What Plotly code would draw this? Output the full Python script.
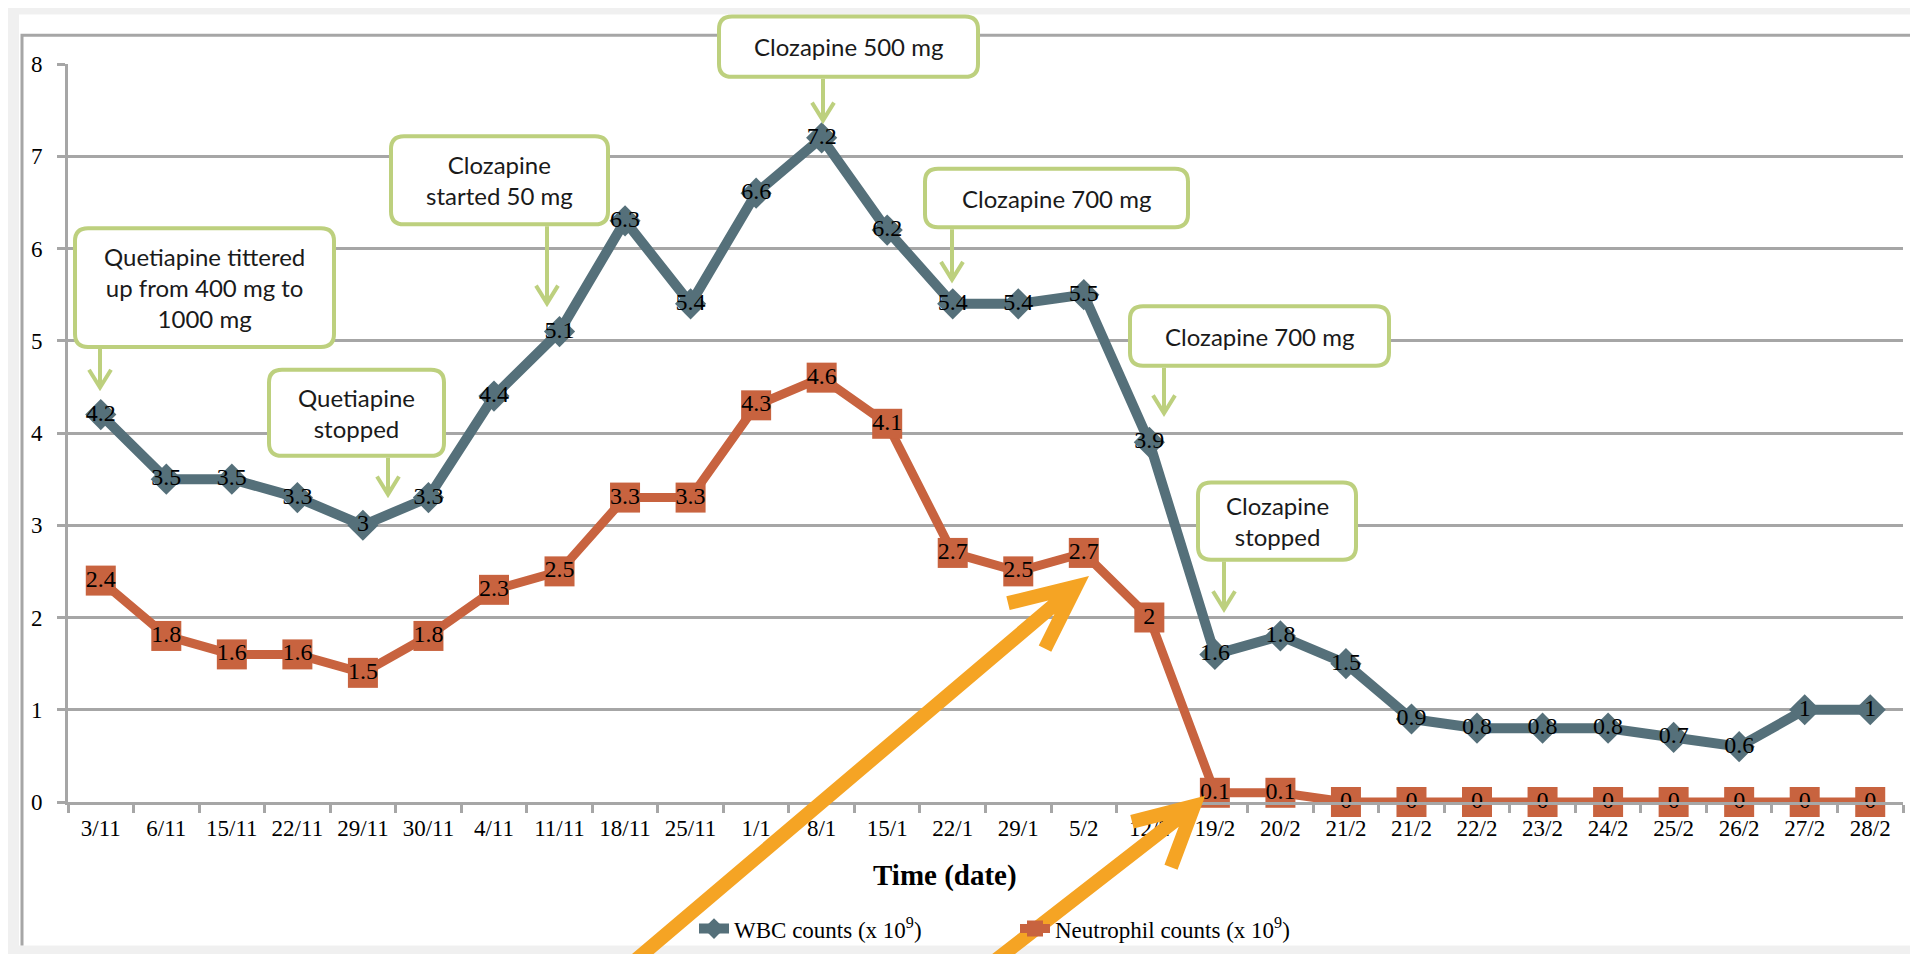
import plotly.graph_objects as go

# ---------------- data ----------------
dates = ["3/11", "6/11", "15/11", "22/11", "29/11", "30/11", "4/11", "11/11", "18/11", "25/11",
         "1/1", "8/1", "15/1", "22/1", "29/1", "5/2", "12/2", "19/2", "20/2", "21/2",
         "21/2", "22/2", "23/2", "24/2", "25/2", "26/2", "27/2", "28/2"]
wbc = [4.2, 3.5, 3.5, 3.3, 3.0, 3.3, 4.4, 5.1, 6.3, 5.4, 6.6, 7.2, 6.2, 5.4, 5.4, 5.5, 3.9,
       1.6, 1.8, 1.5, 0.9, 0.8, 0.8, 0.8, 0.7, 0.6, 1.0, 1.0]
neutrophil = [2.4, 1.8, 1.6, 1.6, 1.4, 1.8, 2.3, 2.5, 3.3, 3.3, 4.3, 4.6, 4.1, 2.7, 2.5, 2.7, 2.0,
              0.1, 0.1, 0, 0, 0, 0, 0, 0, 0, 0, 0]
wbc_labels = [f"{v:g}" for v in wbc]
neutrophil_labels = [f"{v:g}" for v in neutrophil]
neutrophil_labels[4] = "1.5"

y_ticks = [0, 1, 2, 3, 4, 5, 6, 7, 8]

# ---------------- geometry helpers (pixel -> paper) ----------------
W, H = 1918, 954
L, R, T, B = 60, 1895, 56, 802


def px(x):
    return (x - L) / (R - L)


def py(y):
    return (B - y) / (B - T)


WBC_COLOR = "#55707A"
NEU_COLOR = "#C8633F"
GRID = "#A6A6A6"
GREEN = "#BDD07E"
ORANGE = "#F5A424"
SERIF = "Liberation Serif, Times New Roman, serif"
SANS = "Lato, Open Sans, sans-serif"

x_idx = list(range(len(dates)))

fig = go.Figure()
fig.add_trace(go.Scatter(
    x=x_idx, y=wbc, mode="lines+markers+text", name="WBC counts (x 10<sup>9</sup>)",
    line=dict(color=WBC_COLOR, width=10),
    marker=dict(symbol="diamond", size=24, color=WBC_COLOR),
    text=wbc_labels, textposition="middle center",
    textfont=dict(family=SERIF, size=24, color="black"),
    cliponaxis=False,
))
fig.add_trace(go.Scatter(
    x=x_idx, y=neutrophil, mode="lines+markers+text", name="Neutrophil counts (x 10<sup>9</sup>)",
    line=dict(color=NEU_COLOR, width=9),
    marker=dict(symbol="square", size=30, color=NEU_COLOR),
    text=neutrophil_labels, textposition="middle center",
    textfont=dict(family=SERIF, size=24, color="black"),
    cliponaxis=False,
))

shapes = []
# page background + chart border
shapes.append(dict(type="rect", xref="paper", yref="paper", layer="below",
                   x0=px(11), x1=px(W + 5), y0=py(947), y1=py(6),
                   fillcolor="white", line=dict(width=0)))
shapes.append(dict(type="path", xref="paper", yref="paper", layer="below",
                   path=f"M {px(14)},{py(947)} L {px(14)},{py(27)} L {px(W + 5)},{py(27)}",
                   line=dict(color=GRID, width=3)))

# callout boxes: (x0, x1, y0, y1, arrow_x, tip_y, text)
callouts = [
    (67, 326, 222, 342, 92, 383, "Quetiapine tittered<br>up from 400 mg to<br>1000 mg"),
    (261, 436, 365, 452, 380, 491, "Quetiapine<br>stopped"),
    (383, 600, 129, 218, 539, 298, "Clozapine<br>started 50 mg"),
    (711, 970, 8, 69, 815, 113, "Clozapine 500 mg"),
    (917, 1180, 162, 221, 944, 274, "Clozapine 700 mg"),
    (1122, 1381, 301, 361, 1156, 409, "Clozapine 700 mg"),
    (1190, 1348, 479, 557, 1216, 607, "Clozapine<br>stopped"),
]


def rounded_rect(x0, x1, y0, y1, r=13):
    pts = [
        f"M {px(x0 + r)},{py(y0)}",
        f"L {px(x1 - r)},{py(y0)}",
        f"Q {px(x1)},{py(y0)} {px(x1)},{py(y0 + r)}",
        f"L {px(x1)},{py(y1 - r)}",
        f"Q {px(x1)},{py(y1)} {px(x1 - r)},{py(y1)}",
        f"L {px(x0 + r)},{py(y1)}",
        f"Q {px(x0)},{py(y1)} {px(x0)},{py(y1 - r)}",
        f"L {px(x0)},{py(y0 + r)}",
        f"Q {px(x0)},{py(y0)} {px(x0 + r)},{py(y0)}",
        "Z",
    ]
    return " ".join(pts)


annotations = []
for (x0, x1, y0, y1, ax, tip, txt) in callouts:
    shapes.append(dict(type="path", xref="paper", yref="paper", layer="above",
                       path=rounded_rect(x0, x1, y0, y1),
                       fillcolor="white", line=dict(color=GREEN, width=4)))
    shapes.append(dict(type="path", xref="paper", yref="paper", layer="above",
                       path=(f"M {px(ax)},{py(y1 + 2)} L {px(ax)},{py(tip)} "
                             f"M {px(ax - 11)},{py(tip - 18)} L {px(ax)},{py(tip)} L {px(ax + 11)},{py(tip - 18)}"),
                       line=dict(color=GREEN, width=4)))
    annotations.append(dict(xref="paper", yref="paper", x=px((x0 + x1) / 2), y=py((y0 + y1) / 2),
                            text=txt, showarrow=False, xanchor="center", yanchor="middle",
                            font=dict(family=SANS, size=24, color="#1a1a1a")))

# orange overlay arrows
orange_arrows = [
    ((625, 964), (1068, 584), (1000, 601), (1037, 647)),
    ((985, 964), (1186, 806), (1124, 822), (1163, 868)),
]
for tail, tip, arm1, arm2 in orange_arrows:
    shapes.append(dict(type="path", xref="paper", yref="paper", layer="above",
                       path=(f"M {px(tail[0])},{py(tail[1])} L {px(tip[0])},{py(tip[1])} "
                             f"M {px(arm1[0])},{py(arm1[1])} L {px(tip[0])},{py(tip[1])} "
                             f"L {px(arm2[0])},{py(arm2[1])}"),
                       line=dict(color=ORANGE, width=14)))

# x-axis title
annotations.append(dict(xref="paper", yref="paper", x=px(937), y=py(876),
                        text="<b>Time (date)</b>", showarrow=False,
                        xanchor="center", yanchor="middle",
                        font=dict(family=SERIF, size=29, color="black")))

fig.update_layout(
    width=W, height=H,
    margin=dict(l=L, r=W - R, t=T, b=H - B, pad=0),
    paper_bgcolor="#F0F0F0",
    plot_bgcolor="rgba(0,0,0,0)",
    shapes=shapes,
    annotations=annotations,
    showlegend=True,
    legend=dict(orientation="h", x=px(686), y=py(930), xanchor="left", yanchor="middle",
                font=dict(family=SERIF, size=23, color="black"),
                bgcolor="rgba(0,0,0,0)", entrywidth=276, entrywidthmode="pixels",
                itemsizing="trace"),
    xaxis=dict(range=[-0.5, len(dates) - 0.5], tickmode="array", tickvals=x_idx, ticktext=dates,
               ticks="", showgrid=False, zeroline=False, showline=True, linecolor=GRID, linewidth=3,
               tickfont=dict(family=SERIF, size=23, color="black"), ticklabelstandoff=3,
               minor=dict(tickmode="array", tickvals=[k - 0.5 for k in range(len(dates) + 1)],
                          ticks="outside", ticklen=8, tickwidth=3, tickcolor=GRID, showgrid=False)),
    yaxis=dict(range=[0, 8], tickmode="array", tickvals=y_ticks, showgrid=True, gridcolor=GRID,
               gridwidth=3, zeroline=False, showline=True, linecolor=GRID, linewidth=3,
               ticks="outside", ticklen=8, tickwidth=3, tickcolor=GRID,
               tickfont=dict(family=SERIF, size=23, color="black"), ticklabelstandoff=10),
)

fig.write_html("out.html")
